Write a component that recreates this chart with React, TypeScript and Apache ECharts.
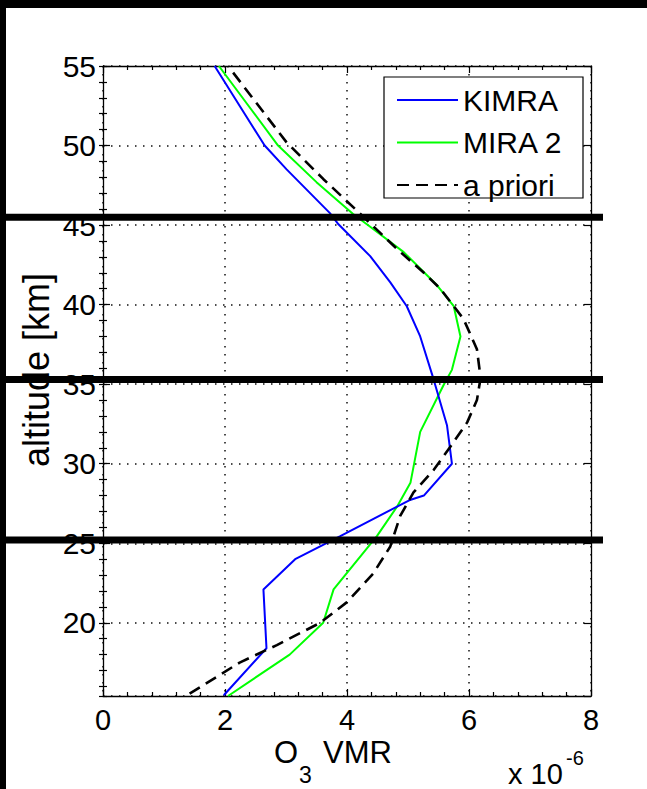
import React, { useEffect, useRef } from "react";
import * as echarts from "echarts";

// ---- data (VMR in units of 1e-6, altitude in km) ----
const kimraAlt = [15.45, 18.4, 22.1, 24.0, 25.45, 27.7, 28.0, 30.0, 32.4, 35.3, 38.0, 39.9, 41.4, 43.05, 45.05, 45.75, 48.5, 50.0, 55.0];
const kimraVmr = [1.98, 2.68, 2.63, 3.15, 3.89, 5.02, 5.26, 5.72, 5.64, 5.42, 5.2, 4.98, 4.71, 4.38, 3.86, 3.72, 3.01, 2.65, 1.83];

const miraAlt = [15.4, 18.0, 20.0, 22.1, 25.45, 27.3, 28.8, 32.0, 35.0, 35.9, 38.0, 39.9, 41.2, 43.3, 44.9, 45.7, 47.7, 50.0, 55.0];
const miraVmr = [2.05, 3.06, 3.61, 3.78, 4.49, 4.82, 5.04, 5.2, 5.59, 5.72, 5.86, 5.75, 5.48, 4.93, 4.38, 4.1, 3.5, 2.87, 1.9];

const aprioriAlt = [15.55, 17.5, 18.6, 20.0, 21.3, 23.1, 24.8, 26.7, 28.2, 29.6, 31.1, 32.6, 34.0, 35.4, 37.2, 39.1, 41.0, 42.0, 43.5, 45.7, 47.9, 50.2, 55.0];
const aprioriVmr = [1.42, 2.24, 2.85, 3.56, 4.0, 4.43, 4.71, 4.87, 5.09, 5.42, 5.7, 5.97, 6.13, 6.19, 6.13, 5.91, 5.53, 5.26, 4.82, 4.22, 3.61, 3.01, 2.05];

const thickLineAlts = [45.5, 35.3, 25.2];

const seriesNames = ["KIMRA", "MIRA 2", "a priori"];
const xTicks = [0, 2, 4, 6, 8];
const yMin = 15.4;
const yMax = 55;

const FONT = "'Liberation Sans', Arial, Helvetica, sans-serif";

const pairs = (xs: number[], ys: number[]) => xs.map((x, i) => [x, ys[i]]);

export default function App() {
  const ref = useRef<HTMLDivElement>(null);

  useEffect(() => {
    if (!ref.current) return;
    const chart = echarts.init(ref.current, undefined, { renderer: "svg" });

    const tickLine = { color: "#000", width: 1.2 };
    const axisLine = { show: true, onZero: false, lineStyle: { color: "#000", width: 1.3 } };
    const gridLine = { show: true, lineStyle: { color: "#111", width: 1.5, type: [1.5, 6.5] } };

    const option: any = {
      animation: false,
      backgroundColor: "#fff",
      grid: { left: 103, top: 66, width: 488, height: 630, containLabel: false },
      xAxis: [
        {
          type: "value",
          min: xTicks[0],
          max: xTicks[xTicks.length - 1],
          interval: 2,
          position: "bottom",
          axisLine,
          axisTick: { show: true, inside: true, length: 7, lineStyle: tickLine },
          minorTick: { show: true, splitNumber: 5, length: 4, lineStyle: tickLine },
          axisLabel: { color: "#000", fontSize: 29, fontFamily: FONT, margin: 9 },
          splitLine: gridLine,
        },
        {
          type: "value",
          min: xTicks[0],
          max: xTicks[xTicks.length - 1],
          interval: 2,
          position: "top",
          axisLine,
          axisTick: { show: true, inside: true, length: 7, lineStyle: tickLine },
          minorTick: { show: true, splitNumber: 5, length: 4, lineStyle: tickLine },
          axisLabel: { show: false },
          splitLine: { show: false },
        },
      ],
      yAxis: [
        {
          type: "value",
          min: yMin,
          max: yMax,
          minInterval: 5,
          maxInterval: 5,
          position: "left",
          axisLine,
          axisTick: { show: true, inside: true, length: 7, lineStyle: tickLine },
          axisLabel: { color: "#000", fontSize: 30, fontFamily: FONT, margin: 7, showMinLabel: false },
          splitLine: gridLine,
        },
        {
          type: "value",
          min: yMin,
          max: yMax,
          minInterval: 1,
          maxInterval: 1,
          position: "left",
          axisLine: { show: false },
          axisTick: { show: true, inside: true, length: 4, lineStyle: tickLine },
          axisLabel: { show: false },
          splitLine: { show: false },
        },
        {
          type: "value",
          min: yMin,
          max: yMax,
          minInterval: 5,
          maxInterval: 5,
          position: "right",
          axisLine,
          axisTick: { show: true, inside: true, length: 7, lineStyle: tickLine },
          axisLabel: { show: false },
          splitLine: { show: false },
        },
        {
          type: "value",
          min: yMin,
          max: yMax,
          minInterval: 1,
          maxInterval: 1,
          position: "right",
          axisLine: { show: false },
          axisTick: { show: true, inside: true, length: 4, lineStyle: tickLine },
          axisLabel: { show: false },
          splitLine: { show: false },
        },
      ],
      legend: {
        data: seriesNames,
        orient: "vertical",
        left: 396,
        top: 85,
        padding: 0,
        itemWidth: 61,
        itemHeight: 20,
        itemGap: 12.5,
        itemStyle: { opacity: 0 },
        textStyle: { color: "#000", fontSize: 30, fontFamily: FONT },
        z: 10,
      },
      series: [
        {
          name: seriesNames[0],
          type: "line",
          data: pairs(kimraVmr, kimraAlt),
          symbol: "none",
          lineStyle: { color: "#0000ff", width: 2 },
          itemStyle: { color: "#0000ff" },
          z: 3,
        },
        {
          name: seriesNames[1],
          type: "line",
          data: pairs(miraVmr, miraAlt),
          symbol: "none",
          lineStyle: { color: "#00ff00", width: 2 },
          itemStyle: { color: "#00ff00" },
          z: 2,
        },
        {
          name: seriesNames[2],
          type: "line",
          data: pairs(aprioriVmr, aprioriAlt),
          symbol: "none",
          lineStyle: { color: "#000", width: 2.6, type: [12, 7] },
          itemStyle: { color: "#000" },
          z: 4,
        },
      ],
    };

    chart.setOption(option);

    const rightX = chart.convertToPixel({ xAxisIndex: 0 }, xTicks[xTicks.length - 1]) as number;
    const thick = thickLineAlts.map((a, i) => {
      const py = chart.convertToPixel({ yAxisIndex: 0 }, a) as number;
      return {
        type: "line",
        id: "thick" + i,
        z: 50,
        shape: { x1: 0, y1: py, x2: rightX + 12, y2: py },
        style: { stroke: "#000", lineWidth: 7 },
      };
    });

    chart.setOption({
      graphic: [
        {
          type: "rect",
          id: "legendBox",
          z: 5,
          shape: { x: 384, y: 77, width: 199, height: 121 },
          style: { fill: "#fff", stroke: "#000", lineWidth: 1.2 },
        },
        ...thick,
        {
          type: "text",
          id: "ytitle",
          x: 36,
          y: 370,
          rotation: Math.PI / 2,
          style: { text: "altitude [km]", fontSize: 36, fontFamily: FONT, fill: "#000", align: "center", verticalAlign: "middle" },
        },
        {
          type: "text",
          id: "xO",
          x: 274,
          y: 752,
          style: { text: "O", fontSize: 31, fontFamily: FONT, fill: "#000", align: "left", verticalAlign: "middle" },
        },
        {
          type: "text",
          id: "x3",
          x: 299,
          y: 775,
          style: { text: "3", fontSize: 23, fontFamily: FONT, fill: "#000", align: "left", verticalAlign: "middle" },
        },
        {
          type: "text",
          id: "xVMR",
          x: 323,
          y: 752,
          style: { text: "VMR", fontSize: 31, fontFamily: FONT, fill: "#000", align: "left", verticalAlign: "middle" },
        },
        {
          type: "text",
          id: "xScale",
          x: 508,
          y: 774,
          style: { text: "x 10", fontSize: 29, fontFamily: FONT, fill: "#000", align: "left", verticalAlign: "middle" },
        },
        {
          type: "text",
          id: "xExp",
          x: 566,
          y: 758,
          style: { text: "-6", fontSize: 20, fontFamily: FONT, fill: "#000", align: "left", verticalAlign: "middle" },
        },
        {
          type: "rect",
          id: "borderTop",
          z: 100,
          shape: { x: 0, y: 0, width: 647, height: 8 },
          style: { fill: "#000" },
        },
        {
          type: "rect",
          id: "borderLeft",
          z: 100,
          shape: { x: 0, y: 0, width: 6, height: 789 },
          style: { fill: "#000" },
        },
      ],
    });

    return () => chart.dispose();
  }, []);

  return <div ref={ref} style={{ position: "absolute", left: 0, top: 0, width: 647, height: 789 }} />;
}
